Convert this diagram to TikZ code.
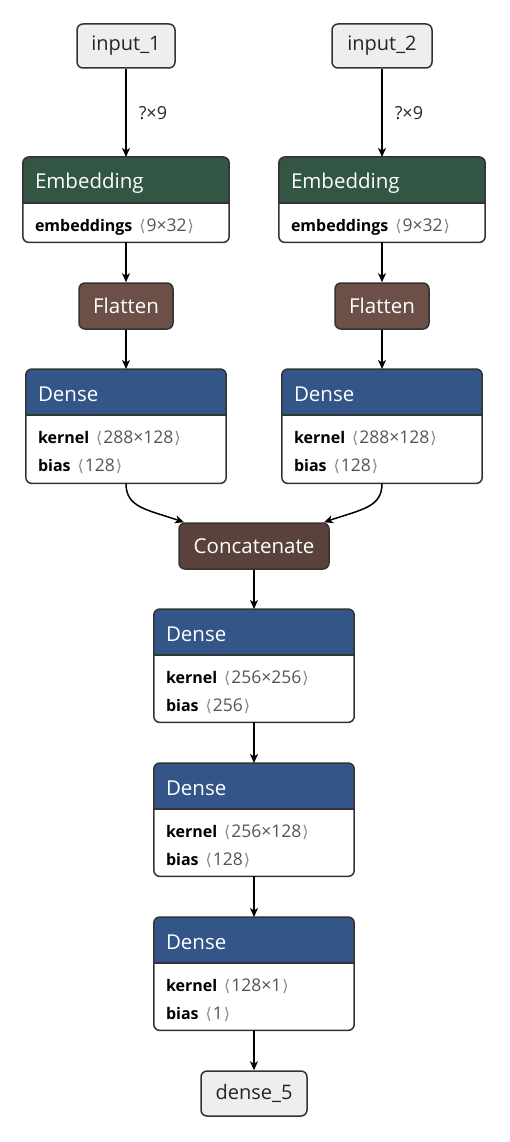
\documentclass[tikz,border=0pt]{standalone}
\usepackage{fontspec}
\setmainfont{Open Sans}
\newfontfamily\symf{DejaVu Sans}
\usetikzlibrary{arrows.meta}
\definecolor{edgegray}{HTML}{333333}
\definecolor{transformc}{HTML}{335544}
\definecolor{layerc}{HTML}{335588}
\definecolor{shapec}{HTML}{6C4F47}
\definecolor{tensorc}{HTML}{59423B}
\definecolor{ioc}{HTML}{EEEEEE}
\definecolor{brgray}{HTML}{888888}
\definecolor{valgray}{HTML}{555555}
\tikzset{
  x=1pt, y=-1pt,
  border/.style={draw=edgegray, line width=1.5pt},
  iobox/.style={border, fill=ioc, rounded corners=6pt, inner sep=0pt, text=black!85, font=\fontsize{20}{22}\selectfont},
  opbox/.style={border, rounded corners=6pt, inner sep=0pt, text=white, font=\fontsize{20.5}{22}\selectfont},
  titletext/.style={text=white, font=\fontsize{20.5}{22}\selectfont, inner sep=0pt, anchor=base west},
  attrtext/.style={text=black, font=\fontsize{16}{20}\selectfont, inner sep=0pt, anchor=base west},
  edge/.style={draw=black, line width=1.5pt, -{Stealth[length=9pt,width=8pt,inset=2.5pt]}},
  edgelabel/.style={font=\fontsize{18}{20}\selectfont, text=black!85, inner sep=0pt, anchor=west}
}
\newcommand{\attr}[2]{\textbf{#1}\hspace{7pt}{\symf\color{brgray}\fontsize{16}{20}\selectfont ⟨}\hspace{1pt}{\color{valgray}\fontsize{17.5}{20}\selectfont #2}\hspace{1pt}{\symf\color{brgray}\fontsize{16}{20}\selectfont ⟩}}
% name, cx, top, width, bodyH, color, title, line1, line2
\newcommand{\layerbox}[9]{%
  \node[draw=none, minimum width=#4pt, minimum height={46pt+#5pt}, inner sep=0pt, anchor=north] (#1) at (#2,#3) {};
  \path[fill=white, rounded corners=6pt] (#1.north west) rectangle (#1.south east);
  \fill[#6] ([yshift=-46pt]#1.north west) [rounded corners=6pt] -- (#1.north west) -- (#1.north east) [sharp corners] -- ([yshift=-46pt]#1.north east) -- cycle;
  \draw[border] ([yshift=-46pt]#1.north west) -- ([yshift=-46pt]#1.north east);
  \draw[border, rounded corners=6pt] (#1.north west) rectangle (#1.south east);
  \node[titletext] at ([xshift=12pt, yshift=-32pt]#1.north west) {#7};
  \node[attrtext] at ([xshift=12pt, yshift=-74pt]#1.north west) {#8};
  \node[attrtext] at ([xshift=12pt, yshift=-102pt]#1.north west) {#9};
}
\begin{document}
\begin{tikzpicture}
\useasboundingbox (0,0) rectangle (510,1142);
% inputs
\node[iobox, minimum width=98pt, minimum height=44pt] (in1) at (126,46) {input\_1};
\node[iobox, minimum width=100pt, minimum height=44pt] (in2) at (382,46) {input\_2};
% embeddings
\layerbox{emb1}{126}{157}{206}{39}{transformc}{Embedding}{\attr{embeddings}{9×32}}{}
\layerbox{emb2}{382}{157}{206}{39}{transformc}{Embedding}{\attr{embeddings}{9×32}}{}
% flatten
\node[opbox, fill=shapec, minimum width=94pt, minimum height=46pt] (fl1) at (126,306) {Flatten};
\node[opbox, fill=shapec, minimum width=94pt, minimum height=46pt] (fl2) at (382,306) {Flatten};
% dense 1/2
\layerbox{d1}{126}{369}{200}{68}{layerc}{Dense}{\attr{kernel}{288×128}}{\attr{bias}{128}}
\layerbox{d2}{382}{369}{200}{68}{layerc}{Dense}{\attr{kernel}{288×128}}{\attr{bias}{128}}
% concatenate
\node[opbox, fill=tensorc, minimum width=150pt, minimum height=46pt] (cat) at (254,546) {Concatenate};
% dense 3-5
\layerbox{d3}{254}{609}{200}{67}{layerc}{Dense}{\attr{kernel}{256×256}}{\attr{bias}{256}}
\layerbox{d4}{254}{763}{200}{67}{layerc}{Dense}{\attr{kernel}{256×128}}{\attr{bias}{128}}
\layerbox{d5}{254}{917}{200}{67}{layerc}{Dense}{\attr{kernel}{128×1}}{\attr{bias}{1}}
% output
\node[iobox, minimum width=106pt, minimum height=45pt] (out) at (254,1093.5) {dense\_5};
% edges
\draw[edge] (in1.south) -- node[edgelabel, pos=0.5, xshift=12pt] {?×9} (emb1.north);
\draw[edge] (in2.south) -- node[edgelabel, pos=0.5, xshift=12pt] {?×9} (emb2.north);
\draw[edge] (emb1.south) -- (fl1.north);
\draw[edge] (emb2.south) -- (fl2.north);
\draw[edge] (fl1.south) -- (d1.north);
\draw[edge] (fl2.south) -- (d2.north);
\coordinate (catl) at ([xshift=-70pt]cat.north);
\coordinate (catr) at ([xshift=70pt]cat.north);
\draw[edge] (d1.south) .. controls ([yshift=-24pt]d1.south) and ([xshift=-38pt,yshift=13pt]catl) .. (catl);
\draw[edge] (d2.south) .. controls ([yshift=-24pt]d2.south) and ([xshift=38pt,yshift=13pt]catr) .. (catr);
\draw[edge] (cat.south) -- (d3.north);
\draw[edge] (d3.south) -- (d4.north);
\draw[edge] (d4.south) -- (d5.north);
\draw[edge] (d5.south) -- (out.north);
\end{tikzpicture}
\end{document}
